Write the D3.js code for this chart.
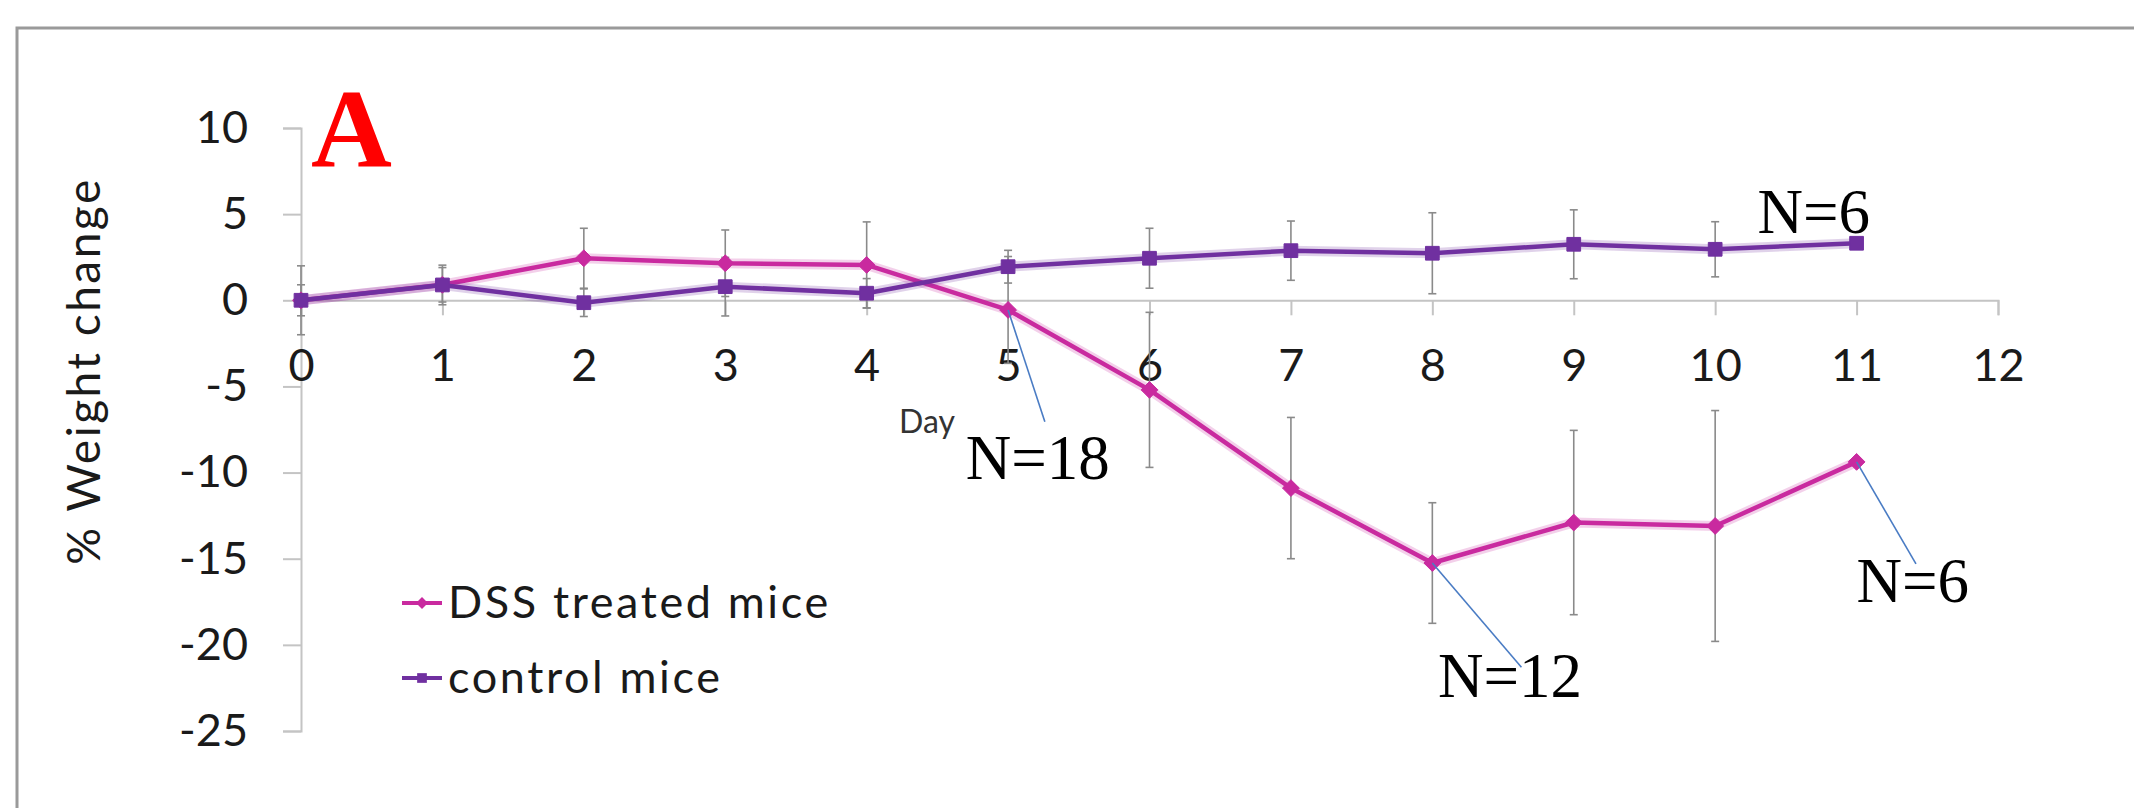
<!DOCTYPE html>
<html>
<head>
<meta charset="utf-8">
<script src="https://cdn.jsdelivr.net/npm/d3@7"></script>
<style>
  body { margin: 0; background: #fff; }
  svg { display: block; }
</style>
</head>
<body>
<script>
// days on the x axis
const days = [0, 1, 2, 3, 4, 5, 6, 7, 8, 9, 10, 11];
// % weight change, DSS treated mice (mean, error)
const dssMean = [0, 0.9, 2.44, 2.15, 2.05, -0.56, -5.2, -10.9, -15.25, -12.9, -13.1, -9.38];
const dssErr = [2.0, 1.0, 1.74, 1.93, 2.5, 3.1, 4.5, 4.1, 3.5, 5.35, 6.7, 0];
// % weight change, control mice (mean, error)
const ctrlMean = [0, 0.89, -0.14, 0.79, 0.41, 1.95, 2.44, 2.88, 2.73, 3.25, 2.96, 3.31];
const ctrlErr = [0.9, 1.15, 0.8, 1.7, 0.85, 0.95, 1.74, 1.72, 2.35, 2.0, 1.6, 0];

const xTicks = [0, 1, 2, 3, 4, 5, 6, 7, 8, 9, 10, 11, 12];
const yTicks = [-25, -20, -15, -10, -5, 0, 5, 10];
const seriesNames = ["DSS treated mice", "control mice"];

// N annotations: series, day of the point, leader end and label position in data units
const notes = [
  {text: "N=18", series: 0, day: 5, lx: 5.26, ly: -7.05, tx: 4.7, ty: -10.4},
  {text: "N=12", series: 0, day: 8, lx: 8.63, ly: -21.3, tx: 8.04, ty: -23.0},
  {text: "N=6", series: 0, day: 11, lx: 11.42, ly: -15.3, tx: 11.0, ty: -17.5},
  {text: "N=6", series: 1, day: 11, lx: null, ly: null, tx: 10.3, ty: 3.9}
];

const width = 2134, height = 808;
const dssColor = "#c92a9f", ctrlColor = "#7030a0";

const x = d3.scaleLinear().domain([0, 12]).range([301, 1998]);
const y = d3.scaleLinear().domain([-25, 10]).range([731, 128]);

const svg = d3.select("body").append("svg")
    .attr("width", width)
    .attr("height", height);

// frame
svg.append("path")
    .attr("d", `M17,${height}V28H${width}`)
    .attr("fill", "none")
    .attr("stroke", "#9a9a9a")
    .attr("stroke-width", 3);

const tickFont = "Lato, 'Open Sans', sans-serif";

// y axis
const gy = svg.append("g")
    .attr("transform", `translate(${x(0)},0)`)
    .call(d3.axisLeft(y).tickValues(yTicks).tickFormat(d => String(d))
        .tickSize(18).tickPadding(35));
// x axis at zero
const gx = svg.append("g")
    .attr("transform", `translate(0,${y(0)})`)
    .call(d3.axisBottom(x).tickValues(xTicks).tickFormat(d => String(d))
        .tickSize(15).tickPadding(34));

[gx, gy].forEach(g => {
  g.select(".domain").attr("stroke", "#c4c4c4").attr("stroke-width", 2);
  g.selectAll(".tick line").attr("stroke", "#c4c4c4").attr("stroke-width", 2);
  g.selectAll(".tick text")
      .attr("fill", "#1a1a1a")
      .attr("font-family", tickFont)
      .attr("font-size", 45);
});

// axis titles
svg.append("text")
    .attr("transform", `translate(100,371) rotate(-90)`)
    .attr("text-anchor", "middle")
    .attr("font-family", tickFont)
    .attr("font-size", 46)
    .attr("letter-spacing", 2.5)
    .attr("fill", "#1a1a1a")
    .text("% Weight change");

svg.append("text")
    .attr("x", 899)
    .attr("y", 433)
    .attr("font-family", tickFont)
    .attr("font-size", 32)
    .attr("fill", "#333")
    .text("Day");

// panel letter
svg.append("text")
    .attr("x", 311)
    .attr("y", 167)
    .attr("font-family", "'Liberation Serif', 'Times New Roman', serif")
    .attr("font-weight", "bold")
    .attr("font-size", 112)
    .attr("fill", "#ff0000")
    .text("A");

const series = [
  {mean: dssMean, err: dssErr, color: dssColor, marker: d3.symbolDiamond2, size: 180},
  {mean: ctrlMean, err: ctrlErr, color: ctrlColor, marker: d3.symbolSquare2, size: 240}
];

// error bars
series.forEach(s => {
  const eb = svg.append("g")
      .attr("stroke", "#8a8a8a")
      .attr("stroke-width", 1.6);
  days.forEach((d, i) => {
    if (!s.err[i]) return;
    const top = y(s.mean[i] + s.err[i]), bot = y(s.mean[i] - s.err[i]);
    eb.append("line").attr("x1", x(d)).attr("x2", x(d)).attr("y1", top).attr("y2", bot);
    eb.append("line").attr("x1", x(d) - 4).attr("x2", x(d) + 4).attr("y1", top).attr("y2", top);
    eb.append("line").attr("x1", x(d) - 4).attr("x2", x(d) + 4).attr("y1", bot).attr("y2", bot);
  });
});

// lines and markers
const line = d3.line().x((d, i) => x(days[i])).y(d => y(d));
series.forEach(s => {
  svg.append("path")
      .datum(s.mean)
      .attr("fill", "none")
      .attr("stroke", s.color)
      .attr("stroke-opacity", 0.22)
      .attr("stroke-width", 10)
      .attr("d", line);
  svg.append("path")
      .datum(s.mean)
      .attr("fill", "none")
      .attr("stroke", s.color)
      .attr("stroke-width", 4.5)
      .attr("stroke-linejoin", "round")
      .attr("d", line);
  svg.append("g")
      .selectAll("path")
      .data(s.mean)
      .join("path")
      .attr("transform", (d, i) => `translate(${x(days[i])},${y(d)})`)
      .attr("d", d3.symbol(s.marker, s.size))
      .attr("fill", s.color)
      .attr("stroke", s.color)
      .attr("stroke-width", 1);
});

// legend
const legend = svg.append("g");
seriesNames.forEach((name, i) => {
  const s = series[i];
  const ly = 603 + i * 75;
  legend.append("line")
      .attr("x1", 402).attr("x2", 442)
      .attr("y1", ly).attr("y2", ly)
      .attr("stroke", s.color)
      .attr("stroke-width", 4);
  legend.append("path")
      .attr("transform", `translate(422,${ly})`)
      .attr("d", d3.symbol(s.marker, s.size * 0.5))
      .attr("fill", s.color);
  legend.append("text")
      .attr("x", 448)
      .attr("y", ly + 15)
      .attr("font-family", tickFont)
      .attr("font-size", 45)
      .attr("letter-spacing", 2.6)
      .attr("fill", "#1a1a1a")
      .text(name);
});

// N annotations
notes.forEach(n => {
  const s = series[n.series];
  const i = days.indexOf(n.day);
  if (n.lx !== null) {
    svg.append("line")
        .attr("x1", x(n.day)).attr("y1", y(s.mean[i]))
        .attr("x2", x(n.lx)).attr("y2", y(n.ly))
        .attr("stroke", "#4a7cc4")
        .attr("stroke-width", 1.6);
  }
  svg.append("text")
      .attr("x", x(n.tx))
      .attr("y", y(n.ty))
      .attr("font-family", "'Liberation Serif', 'Times New Roman', serif")
      .attr("font-size", 63)
      .attr("fill", "#000")
      .text(n.text);
});
</script>
</body>
</html>
